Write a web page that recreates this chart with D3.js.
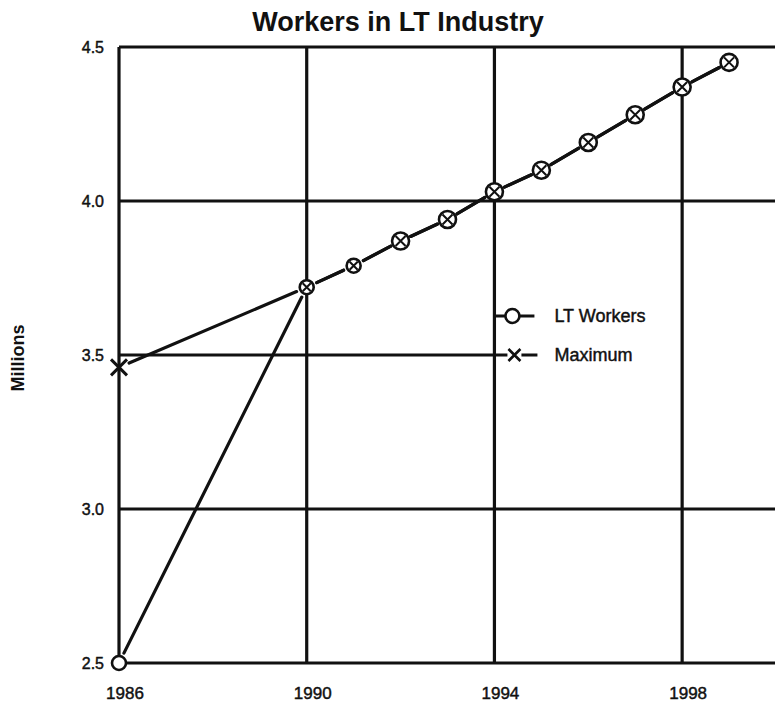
<!DOCTYPE html>
<html>
<head>
<meta charset="utf-8">
<title>Workers in LT Industry</title>
<style>
  body { margin: 0; background: #fff; }
  svg { display: block; }
  text { font-family: "Liberation Sans", Arial, Helvetica, sans-serif; fill: #111; stroke: #111; stroke-width: 0.45; }
  text.bold { stroke: none; font-weight: bold; }
  .grid { stroke: #111; stroke-width: 3.2; fill: none; }
  .series { stroke: #111; stroke-width: 3.2; fill: none; stroke-linecap: round; }
</style>
</head>
<body>
<div id="chart"></div>
<script src="https://d3js.org/d3.v7.min.js"></script>
<script>
// data
var years    = [1986, 1990, 1991, 1992, 1993, 1994, 1995, 1996, 1997, 1998, 1999];
var workers  = [2.50, 3.72, 3.79, 3.87, 3.94, 4.03, 4.10, 4.19, 4.28, 4.37, 4.45];
var maximum  = [3.46, 3.72, 3.79, 3.87, 3.94, 4.03, 4.10, 4.19, 4.28, 4.37, 4.45];
var xTicks   = [1986, 1990, 1994, 1998];
var yTicks   = [2.5, 3.0, 3.5, 4.0, 4.5];
var fullRows = [3.0, 4.0, 4.5];   // gridlines running the whole width
var halfRows = [3.5];             // gridline stopping at 1994

var width = 775, height = 706;

var x = d3.scaleLinear().domain([1986, 2000]).range([119, 776]);
var y = d3.scaleLinear().domain([2.5, 4.5]).range([663, 47]);

var svg = d3.select("#chart").append("svg")
    .attr("width", width)
    .attr("height", height);

// title + y label
svg.append("text")
    .attr("class", "bold")
    .attr("x", 398).attr("y", 31)
    .attr("text-anchor", "middle")
    .style("font-size", "27px")
    .text("Workers in LT Industry");

svg.append("text")
    .attr("class", "bold")
    .attr("transform", "translate(24,358) rotate(-90)")
    .attr("text-anchor", "middle")
    .style("font-size", "18px")
    .text("Millions");

// grid
var g = svg.append("g");
g.selectAll(".vline").data(xTicks).enter().append("line")
    .attr("class", "grid")
    .attr("x1", function(d){ return x(d); }).attr("x2", function(d){ return x(d); })
    .attr("y1", y(4.5)).attr("y2", y(2.5));

g.selectAll(".hfull").data(fullRows).enter().append("line")
    .attr("class", "grid")
    .attr("x1", x(1986)).attr("x2", width)
    .attr("y1", function(d){ return y(d); }).attr("y2", function(d){ return y(d); });

g.selectAll(".hhalf").data(halfRows).enter().append("line")
    .attr("class", "grid")
    .attr("x1", x(1986)).attr("x2", x(1994))
    .attr("y1", function(d){ return y(d); }).attr("y2", function(d){ return y(d); });

g.append("line").attr("class", "grid")
    .attr("x1", x(1986)).attr("x2", width)
    .attr("y1", y(2.5)).attr("y2", y(2.5));

// tick labels
svg.selectAll(".ylab").data(yTicks).enter().append("text")
    .attr("x", 104).attr("y", function(d){ return y(d) + 6; })
    .attr("text-anchor", "end")
    .style("font-size", "16px")
    .text(function(d){ return d3.format(".1f")(d); });

svg.selectAll(".xlab").data(xTicks).enter().append("text")
    .attr("x", function(d){ return x(d) + 6; }).attr("y", 699)
    .attr("text-anchor", "middle")
    .style("font-size", "17px")
    .text(function(d){ return d; });

// series lines, broken a little short of every marker
var gap = 11;
function segments(vals) {
    var out = [];
    for (var i = 0; i < vals.length - 1; i++) {
        var x1 = x(years[i]), y1 = y(vals[i]), x2 = x(years[i+1]), y2 = y(vals[i+1]);
        var len = Math.hypot(x2 - x1, y2 - y1), ux = (x2 - x1) / len, uy = (y2 - y1) / len;
        out.push([x1 + ux*gap, y1 + uy*gap, x2 - ux*gap, y2 - uy*gap]);
    }
    return out;
}

[workers, maximum].forEach(function(vals){
    svg.append("g").selectAll("line").data(segments(vals)).enter().append("line")
        .attr("class", "series")
        .attr("x1", function(d){ return d[0]; }).attr("y1", function(d){ return d[1]; })
        .attr("x2", function(d){ return d[2]; }).attr("y2", function(d){ return d[3]; });
});

// markers: circles for LT Workers, crosses for Maximum
svg.append("g").selectAll("circle").data(years).enter().append("circle")
    .attr("cx", function(d){ return x(d); })
    .attr("cy", function(d, i){ return y(workers[i]); })
    .attr("r", function(d, i){ return i < 3 ? 7 : 8.5; })
    .attr("fill", "#fff").attr("stroke", "#111").attr("stroke-width", 2.6);

function cross(sel, cx, cy, s, w) {
    sel.append("path")
        .attr("d", "M" + (cx - s) + "," + (cy - s) + "L" + (cx + s) + "," + (cy + s) +
                   "M" + (cx - s) + "," + (cy + s) + "L" + (cx + s) + "," + (cy - s))
        .attr("stroke", "#111").attr("stroke-width", w).attr("fill", "none");
}
var xg = svg.append("g");
years.forEach(function(d, i){
    var inside = maximum[i] === workers[i];
    cross(xg, x(d), y(maximum[i]), inside ? (i < 3 ? 4 : 5) : 8, inside ? 2 : 3);
});

// legend hanging off the 1994 gridline
var lx = x(1994);
var leg = svg.append("g");
leg.append("line").attr("class", "grid").attr("x1", lx).attr("x2", lx + 40).attr("y1", 316).attr("y2", 316).style("stroke-width", 3);
leg.append("circle").attr("cx", lx + 18).attr("cy", 316).attr("r", 7)
    .attr("fill", "#fff").attr("stroke", "#111").attr("stroke-width", 2.6);
leg.append("line").attr("class", "grid").attr("x1", lx).attr("x2", lx + 43).attr("y1", y(3.5)).attr("y2", y(3.5)).style("stroke-width", 3);
leg.append("rect").attr("x", lx + 13).attr("y", y(3.5) - 6).attr("width", 14).attr("height", 12).attr("fill", "#fff");
cross(leg, lx + 20, y(3.5), 6, 2.6);
leg.append("text").attr("x", lx + 60).attr("y", 322).style("font-size", "18px").text("LT Workers");
leg.append("text").attr("x", lx + 60).attr("y", y(3.5) + 6).style("font-size", "18px").text("Maximum");
</script>
</body>
</html>
